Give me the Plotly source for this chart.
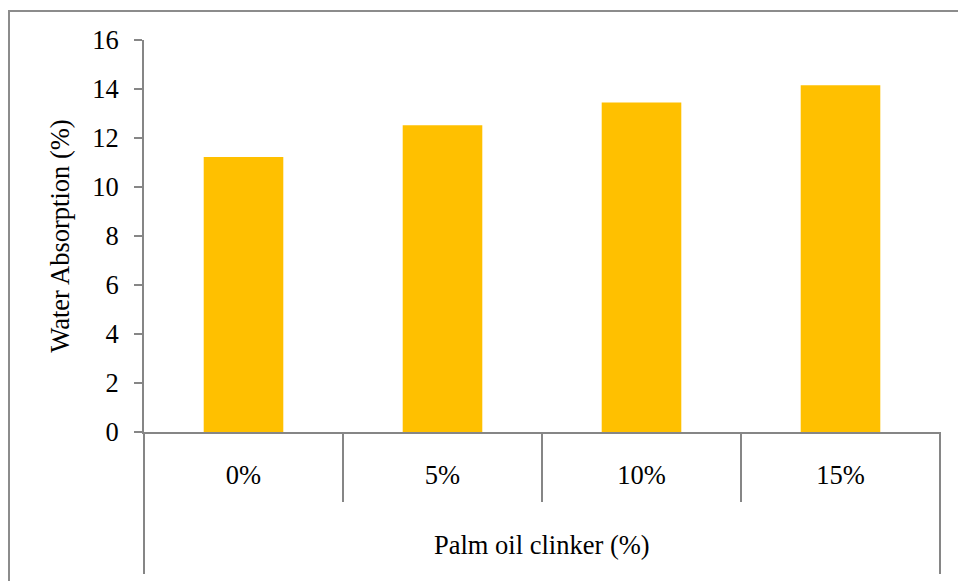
import plotly.graph_objects as go

# Water absorption of specimens by palm oil clinker replacement level
categories = ["0%", "5%", "10%", "15%"]
water_absorption = [11.22, 12.52, 13.45, 14.15]
y_ticks = [0, 2, 4, 6, 8, 10, 12, 14, 16]

W, H = 958, 581
L, R, T, B = 144, 18, 40, 149
plot_w = W - L - R
plot_h = H - T - B

AXIS = "#868686"
BAR = "#FFC000"
FONT = "Liberation Serif"
FS = 26.5

n = len(categories)


def px_to_paper_x(px):
    return (px - L) / plot_w


def px_to_paper_y(py):
    return (H - B - py) / plot_h


fig = go.Figure(
    go.Bar(
        x=list(range(n)),
        y=water_absorption,
        width=0.4,
        marker=dict(color=BAR, line=dict(width=0)),
    )
)

shapes = []
# category dividers below the x axis
for i in range(n - 1):
    xb = (i + 1) / n
    shapes.append(dict(type="line", xref="paper", yref="paper",
                       x0=xb, x1=xb, y0=0, y1=px_to_paper_y(502),
                       line=dict(color=AXIS, width=2)))
# outer category box edges running down to the title row
for xb in (0, 1):
    shapes.append(dict(type="line", xref="paper", yref="paper",
                       x0=xb, x1=xb, y0=0, y1=px_to_paper_y(574),
                       line=dict(color=AXIS, width=2)))
# chart frame
shapes.append(dict(type="rect", xref="paper", yref="paper",
                   x0=px_to_paper_x(9), x1=px_to_paper_x(975),
                   y0=px_to_paper_y(600), y1=px_to_paper_y(11),
                   line=dict(color="#8c8c8c", width=2)))

fig.update_layout(
    width=W, height=H,
    margin=dict(l=L, r=R, t=T, b=B, pad=0),
    paper_bgcolor="white", plot_bgcolor="white",
    showlegend=False,
    font=dict(family=FONT, size=FS, color="black"),
    shapes=shapes,
    annotations=[dict(text="Palm oil clinker (%)", xref="paper", yref="paper",
                      x=0.5, y=px_to_paper_y(545), showarrow=False,
                      xanchor="center", yanchor="middle",
                      font=dict(family=FONT, size=FS, color="black"))],
)

fig.update_xaxes(
    range=[-0.5, n - 0.5],
    tickmode="array", tickvals=list(range(n)), ticktext=categories,
    showline=True, linecolor=AXIS, linewidth=2,
    ticks="", showgrid=False, zeroline=False,
    ticklabelstandoff=18,
    tickfont=dict(family=FONT, size=FS, color="black"),
)

fig.update_yaxes(
    range=[0, 16],
    tickmode="array", tickvals=y_ticks,
    showline=True, linecolor=AXIS, linewidth=2,
    ticks="outside", ticklen=8, tickwidth=2, tickcolor=AXIS,
    showgrid=False, zeroline=False,
    ticklabelstandoff=10,
    tickfont=dict(family=FONT, size=FS, color="black"),
    title=dict(text="Water Absorption (%)", standoff=15,
               font=dict(family=FONT, size=FS, color="black")),
)

fig.write_html("out.html")
